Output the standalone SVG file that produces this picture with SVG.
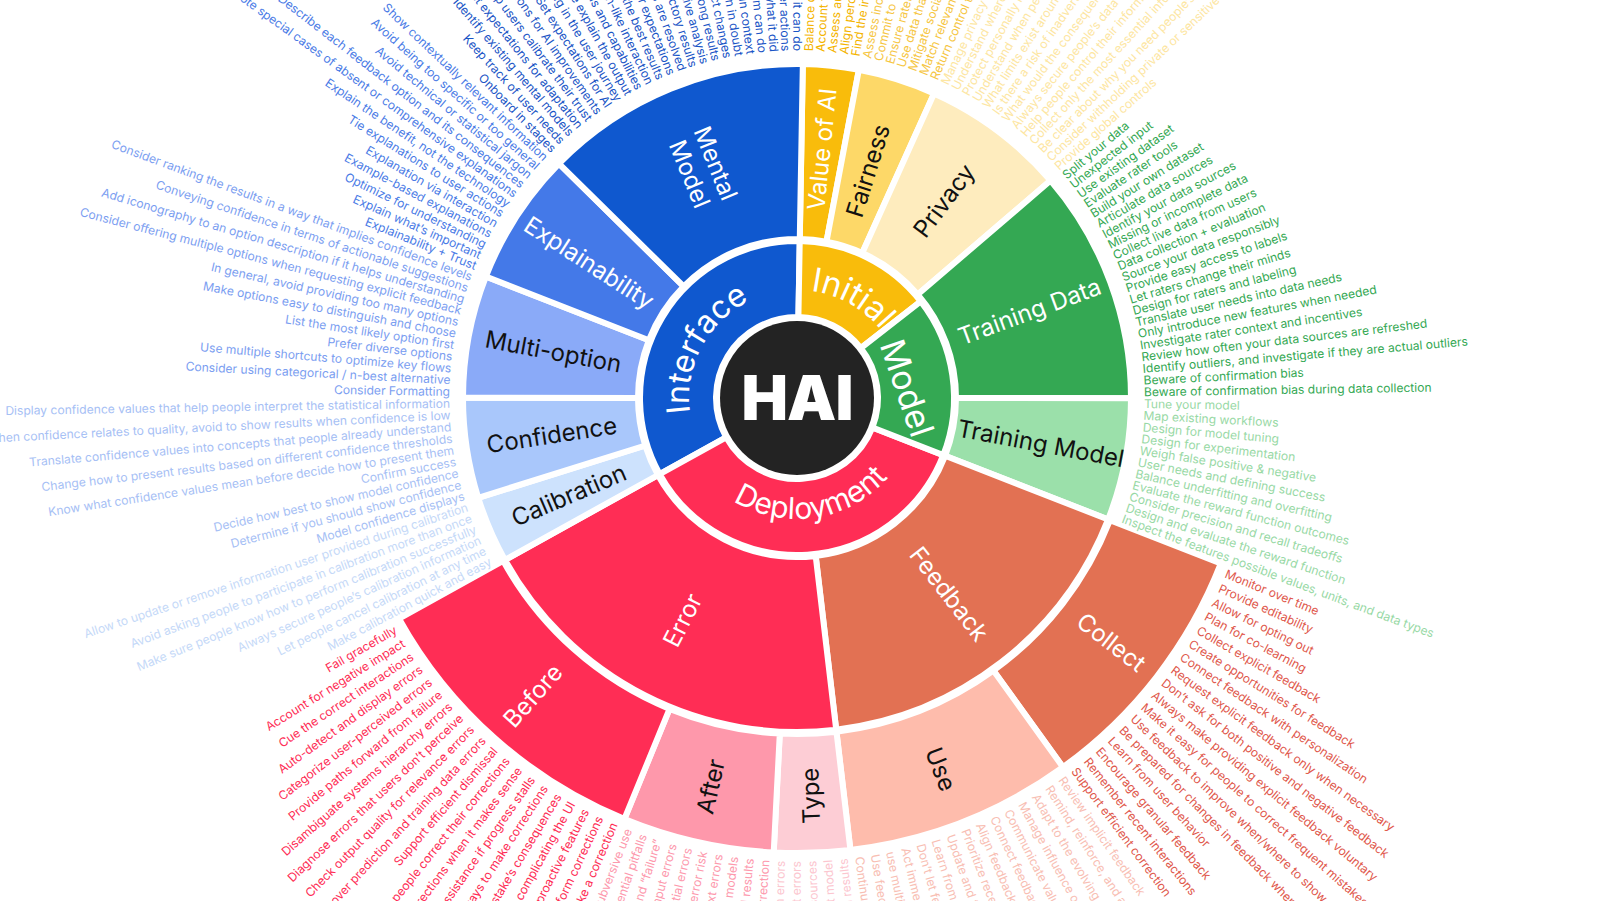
<svg xmlns="http://www.w3.org/2000/svg" width="1601" height="901" viewBox="0 0 1601 901">
<style>
.lt{font-family:Inter,"Noto Sans","DejaVu Sans",sans-serif;font-size:12.1px}
.lt .f{text-anchor:end}
.lb{font-family:Inter,"Noto Sans","DejaVu Sans",sans-serif;font-size:24px;text-anchor:middle}
.il{font-family:Inter,"Noto Sans","DejaVu Sans",sans-serif;fill:#fff;text-anchor:middle}
.seg{stroke:#fff;stroke-width:6}
.w{fill:#fff}.k{fill:#111}
</style>
<defs>
<path id="arcInterface" d="M -66.49 85.11 A 108 108 0 0 1 33.37 -102.71"/>
<path id="arcInitial" d="M -55.62 -92.57 A 108 108 0 0 1 107.98 -1.88"/>
<path id="arcDeployment" d="M -114.75 38.39 A 121 121 0 0 0 120.96 3.17"/>
</defs>
<rect width="1601" height="901" fill="#fff"/>
<g transform="translate(797 398)">

<!-- inner ring -->
<g id="interface"><path class="seg" fill="#0f58cf" d="M -137.315 76.115 A 157 157 0 0 1 2.740 -156.976 L 1.414 -80.988 A 81 81 0 0 0 -70.844 39.270 Z"/>
<text class="il" font-size="32"><textPath href="#arcInterface" startOffset="50%">Interface</textPath></text></g>
<g id="initial"><path class="seg" fill="#f9bc0b" d="M 2.740 -156.976 A 157 157 0 0 1 123.718 -96.659 L 63.829 -49.868 A 81 81 0 0 0 1.414 -80.988 Z"/>
<text class="il" font-size="33"><textPath href="#arcInitial" startOffset="50%">Initial</textPath></text></g>
<g id="deployment"><path class="seg" fill="#ff2d55" d="M 146.253 57.090 A 157 157 0 0 1 -137.315 76.115 L -70.844 39.270 A 81 81 0 0 0 75.456 29.454 Z"/>
<text class="il" font-size="30"><textPath href="#arcDeployment" startOffset="50%">Deployment</textPath></text></g>
<g id="model"><path class="seg" fill="#34a853" d="M 123.718 -96.659 A 157 157 0 0 1 146.253 57.090 L 75.456 29.454 A 81 81 0 0 0 63.829 -49.868 Z"/>
<text class="il" font-size="34" transform="translate(110 -10) rotate(71)" y="12">Model</text></g>

<g id="hai"><circle r="77" fill="#232323"/>
<text y="22" font-family="Inter,'Noto Sans',sans-serif" font-size="62" font-weight="900" fill="#fff" text-anchor="middle" letter-spacing="-1">HAI</text></g>

<!-- second ring -->
<g id="value-of-ai"><path class="seg" fill="#f9bc0b" d="M 5.829 -333.949 A 334 334 0 0 1 61.880 -328.218 L 29.458 -156.248 A 159 159 0 0 0 2.775 -158.976 Z"/>
<text class="lb w" transform="rotate(275.84) translate(250)" y="8">Value of AI</text></g>
<g id="fairness"><path class="seg" fill="#fdd868" d="M 61.880 -328.218 A 334 334 0 0 1 137.054 -304.591 L 65.244 -144.999 A 159 159 0 0 0 29.458 -156.248 Z"/>
<text class="lb k" transform="rotate(287.45) translate(238)" y="8">Fairness</text></g>
<g id="privacy"><path class="seg" fill="#feecbe" d="M 137.054 -304.591 A 334 334 0 0 1 253.546 -217.417 L 120.700 -103.501 A 159 159 0 0 0 65.244 -144.999 Z"/>
<text class="lb k" transform="rotate(306.81) translate(246)" y="8">Privacy</text></g>
<g id="training-data"><path class="seg" fill="#34a853" d="M 253.546 -217.417 A 334 334 0 0 1 334 0.187 L 159 0.089 A 159 159 0 0 0 120.700 -103.501 Z"/>
<text class="lb w" transform="rotate(339.71) translate(248)" y="8">Training Data</text></g>
<g id="training-model"><path class="seg" fill="#9be0aa" d="M 334 0.187 A 334 334 0 0 1 311.138 121.452 L 148.116 57.817 A 159 159 0 0 0 159 0.089 Z"/>
<text class="lb k" transform="rotate(10.68) translate(248)" y="8">Training Model</text></g>
<g id="feedback"><path class="seg" fill="#e27153" d="M 311.138 121.452 A 334 334 0 0 1 39.212 331.692 L 18.667 157.901 A 159 159 0 0 0 148.116 57.817 Z"/>
<text class="lb w" transform="rotate(52.29) translate(248)" y="8">Feedback</text></g>
<g id="error"><path class="seg" fill="#ff2d55" d="M 39.212 331.692 A 334 334 0 0 1 -292.123 161.927 L -139.065 77.085 A 159 159 0 0 0 18.667 157.901 Z"/>
<text class="lb w" transform="rotate(117.13) translate(250) rotate(180)" y="8">Error</text></g>
<g id="calibration"><path class="seg" fill="#cde2fd" d="M -292.123 161.927 A 334 334 0 0 1 -318.736 99.806 L -151.734 47.512 A 159 159 0 0 0 -139.065 77.085 Z"/>
<text class="lb k" transform="rotate(156.81) translate(248) rotate(180)" y="8">Calibration</text></g>
<g id="confidence"><path class="seg" fill="#a9c7fb" d="M -318.736 99.806 A 334 334 0 0 1 -334 -0.187 L -159 -0.089 A 159 159 0 0 0 -151.734 47.512 Z"/>
<text class="lb k" transform="rotate(171.32) translate(248) rotate(180)" y="8">Confidence</text></g>
<g id="multi-option"><path class="seg" fill="#8aaaf8" d="M -334 -0.187 A 334 334 0 0 1 -311.138 -121.452 L -148.116 -57.817 A 159 159 0 0 0 -159 -0.089 Z"/>
<text class="lb k" transform="rotate(190.68) translate(248) rotate(180)" y="8">Multi-option</text></g>
<g id="explainability"><path class="seg" fill="#4479e8" d="M -311.138 -121.452 A 334 334 0 0 1 -238.028 -234.304 L -113.313 -111.540 A 159 159 0 0 0 -148.116 -57.817 Z"/>
<text class="lb w" transform="rotate(212.94) translate(248) rotate(180)" y="8">Explainability</text></g>
<g id="mental-model"><path class="seg" fill="#0f58cf" d="M -238.028 -234.304 A 334 334 0 0 1 5.829 -333.949 L 2.775 -158.976 A 159 159 0 0 0 -113.313 -111.540 Z"/>
<text class="lb w" transform="rotate(247.77) translate(248) rotate(180)"><tspan x="0" y="-5">Mental</tspan><tspan x="0" y="23">Model</tspan></text></g>

<!-- third ring -->
<g id="collect"><path class="seg" fill="#e27153" d="M 423.855 165.452 A 455 455 0 0 1 265.988 369.155 L 196.422 272.607 A 336 336 0 0 0 313.001 122.180 Z"/>
<text class="lb w" transform="rotate(37.77) translate(398)" y="9" font-size="26">Collect</text></g>
<g id="use"><path class="seg" fill="#febcac" d="M 265.988 369.155 A 455 455 0 0 1 53.417 451.856 L 39.446 333.678 A 336 336 0 0 0 196.422 272.607 Z"/>
<text class="lb k" transform="rotate(68.74) translate(398)" y="9" font-size="26">Use</text></g>
<g id="type"><path class="seg" fill="#fdcdd5" d="M 53.417 451.856 A 455 455 0 0 1 -23.301 454.403 L -17.207 335.559 A 336 336 0 0 0 39.446 333.678 Z"/>
<text class="lb k" transform="rotate(88.1) translate(398) rotate(180)" y="9" font-size="26">Type</text></g>
<g id="after"><path class="seg" fill="#fe98ab" d="M -23.301 454.403 A 455 455 0 0 1 -172.582 420.998 L -127.445 310.891 A 336 336 0 0 0 -17.207 335.559 Z"/>
<text class="lb k" transform="rotate(102.61) translate(398) rotate(180)" y="9" font-size="26">After</text></g>
<g id="before"><path class="seg" fill="#ff2d55" d="M -172.582 420.998 A 455 455 0 0 1 -397.952 220.589 L -293.872 162.896 A 336 336 0 0 0 -127.445 310.891 Z"/>
<text class="lb w" transform="rotate(131.65) translate(398) rotate(180)" y="9" font-size="26">Before</text></g>

<!-- item lists -->
<g id="list-value-of-ai" class="lt" fill="#f4b400">
<text transform="rotate(271.97) translate(347)" y="4">Balance control and automation</text>
<text transform="rotate(273.90) translate(347)" y="4">Account for user expectations</text>
<text transform="rotate(275.84) translate(347)" y="4">Assess automation vs. augmentation</text>
<text transform="rotate(277.77) translate(347)" y="4">Align perceived value</text>
<text transform="rotate(279.71) translate(347)" y="4">Find the intersection of user needs &amp; AI strengths</text>
</g>
<g id="list-fairness" class="lt" fill="#f6c643">
<text transform="rotate(281.65) translate(347)" y="4">Assess inclusivity</text>
<text transform="rotate(283.58) translate(347)" y="4">Commit to fairness</text>
<text transform="rotate(285.52) translate(347)" y="4">Ensure rater pool diversity</text>
<text transform="rotate(287.45) translate(347)" y="4">Use data that applies to different groups</text>
<text transform="rotate(289.39) translate(347)" y="4">Mitigate social biases</text>
<text transform="rotate(291.32) translate(347)" y="4">Match relevance to user needs</text>
<text transform="rotate(293.26) translate(347)" y="4">Return control to the user</text>
</g>
<g id="list-privacy" class="lt" fill="#fde6a2">
<text transform="rotate(295.19) translate(347)" y="4">Manage privacy and security</text>
<text transform="rotate(297.13) translate(347)" y="4">Understand where the data comes from</text>
<text transform="rotate(299.06) translate(347)" y="4">Protect personally identifiable information</text>
<text transform="rotate(301.00) translate(347)" y="4">Understand when people want to share</text>
<text transform="rotate(302.94) translate(347)" y="4">What limits exist around data use?</text>
<text transform="rotate(304.87) translate(347)" y="4">Is there a risk of inadvertently revealing data?</text>
<text transform="rotate(306.81) translate(347)" y="4">What would the consequences be?</text>
<text transform="rotate(308.74) translate(347)" y="4">Always secure people’s data</text>
<text transform="rotate(310.68) translate(347)" y="4">Help people control their information</text>
<text transform="rotate(312.61) translate(347)" y="4">Collect only the most essential information</text>
<text transform="rotate(314.55) translate(347)" y="4">Be clear about why you need people’s data</text>
<text transform="rotate(316.48) translate(347)" y="4">Consider withholding private or sensitive data</text>
<text transform="rotate(318.42) translate(347)" y="4">Provide global controls</text>
</g>
<g id="list-training-data" class="lt" fill="#34a853">
<text transform="rotate(320.35) translate(347)" y="4">Split your data</text>
<text transform="rotate(322.29) translate(347)" y="4">Unexpected input</text>
<text transform="rotate(324.23) translate(347)" y="4">Use existing dataset</text>
<text transform="rotate(326.16) translate(347)" y="4">Evaluate rater tools</text>
<text transform="rotate(328.10) translate(347)" y="4">Build your own dataset</text>
<text transform="rotate(330.03) translate(347)" y="4">Articulate data sources</text>
<text transform="rotate(331.97) translate(347)" y="4">Identify your data sources</text>
<text transform="rotate(333.90) translate(347)" y="4">Missing or incomplete data</text>
<text transform="rotate(335.84) translate(347)" y="4">Collect live data from users</text>
<text transform="rotate(337.77) translate(347)" y="4">Data collection + evaluation</text>
<text transform="rotate(339.71) translate(347)" y="4">Source your data responsibly</text>
<text transform="rotate(341.65) translate(347)" y="4">Provide easy access to labels</text>
<text transform="rotate(343.58) translate(347)" y="4">Let raters change their minds</text>
<text transform="rotate(345.52) translate(347)" y="4">Design for raters and labeling</text>
<text transform="rotate(347.45) translate(347)" y="4">Translate user needs into data needs</text>
<text transform="rotate(349.39) translate(347)" y="4">Only introduce new features when needed</text>
<text transform="rotate(351.32) translate(347)" y="4">Investigate rater context and incentives</text>
<text transform="rotate(353.26) translate(347)" y="4">Review how often your data sources are refreshed</text>
<text transform="rotate(355.19) translate(347)" y="4">Identify outliers, and investigate if they are actual outliers</text>
<text transform="rotate(357.13) translate(347)" y="4">Beware of confirmation bias</text>
<text transform="rotate(359.06) translate(347)" y="4">Beware of confirmation bias during data collection</text>
</g>
<g id="list-training-model" class="lt" fill="#98d9a5">
<text transform="rotate(1.00) translate(347)" y="4">Tune your model</text>
<text transform="rotate(2.94) translate(347)" y="4">Map existing workflows</text>
<text transform="rotate(4.87) translate(347)" y="4">Design for model tuning</text>
<text transform="rotate(6.81) translate(347)" y="4">Design for experimentation</text>
<text transform="rotate(8.74) translate(347)" y="4">Weigh false positive &amp; negative</text>
<text transform="rotate(10.68) translate(347)" y="4">User needs and defining success</text>
<text transform="rotate(12.61) translate(347)" y="4">Balance underfitting and overfitting</text>
<text transform="rotate(14.55) translate(347)" y="4">Evaluate the reward function outcomes</text>
<text transform="rotate(16.48) translate(347)" y="4">Consider precision and recall tradeoffs</text>
<text transform="rotate(18.42) translate(347)" y="4">Design and evaluate the reward function</text>
<text transform="rotate(20.35) translate(347)" y="4">Inspect the features possible values, units, and data types</text>
</g>
<g id="list-collect" class="lt" fill="#e0574b">
<text transform="rotate(22.29) translate(463)" y="4">Monitor over time</text>
<text transform="rotate(24.23) translate(463)" y="4">Provide editability</text>
<text transform="rotate(26.16) translate(463)" y="4">Allow for opting out</text>
<text transform="rotate(28.10) translate(463)" y="4">Plan for co-learning</text>
<text transform="rotate(30.03) translate(463)" y="4">Collect explicit feedback</text>
<text transform="rotate(31.97) translate(463)" y="4">Create opportunities for feedback</text>
<text transform="rotate(33.90) translate(463)" y="4">Connect feedback with personalization</text>
<text transform="rotate(35.84) translate(463)" y="4">Request explicit feedback only when necessary</text>
<text transform="rotate(37.77) translate(463)" y="4">Don’t ask for both positive and negative feedback</text>
<text transform="rotate(39.71) translate(463)" y="4">Always make providing explicit feedback voluntary</text>
<text transform="rotate(41.65) translate(463)" y="4">Make it easy for people to correct frequent mistakes</text>
<text transform="rotate(43.58) translate(463)" y="4">Use feedback to improve when/where to show results</text>
<text transform="rotate(45.52) translate(463)" y="4">Be prepared for changes in feedback when the product evolves</text>
<text transform="rotate(47.45) translate(463)" y="4">Learn from user behavior</text>
<text transform="rotate(49.39) translate(463)" y="4">Encourage granular feedback</text>
<text transform="rotate(51.32) translate(463)" y="4">Remember recent interactions</text>
<text transform="rotate(53.26) translate(463)" y="4">Support efficient correction</text>
</g>
<g id="list-use" class="lt" fill="#f8beb3">
<text transform="rotate(55.19) translate(463)" y="4">Review implicit feedback</text>
<text transform="rotate(57.13) translate(463)" y="4">Remind, reinforce, and adjust</text>
<text transform="rotate(59.06) translate(463)" y="4">Adapt to the evolving needs of people</text>
<text transform="rotate(61.00) translate(463)" y="4">Manage influence on user decisions</text>
<text transform="rotate(62.94) translate(463)" y="4">Communicate value and time to impact</text>
<text transform="rotate(64.87) translate(463)" y="4">Connect feedback to UX changes</text>
<text transform="rotate(66.81) translate(463)" y="4">Align feedback with model improvement</text>
<text transform="rotate(68.74) translate(463)" y="4">Prioritize recent feedback</text>
<text transform="rotate(70.68) translate(463)" y="4">Update and tune the model</text>
<text transform="rotate(72.61) translate(463)" y="4">Learn from feedback over time</text>
<text transform="rotate(74.55) translate(463)" y="4">Don’t let feedback go to waste</text>
<text transform="rotate(76.48) translate(463)" y="4">Act immediately on feedback</text>
<text transform="rotate(78.42) translate(463)" y="4">use multiple feedback signals</text>
<text transform="rotate(80.35) translate(463)" y="4">Use feedback to personalize</text>
<text transform="rotate(82.29) translate(463)" y="4">Continuously learn from people</text>
</g>
<g id="list-type" class="lt" fill="#fcc6cf">
<text class="f" transform="rotate(84.23) translate(463) rotate(180)" y="4">Unexpected results</text>
<text class="f" transform="rotate(86.16) translate(463) rotate(180)" y="4">Incorrect model</text>
<text class="f" transform="rotate(88.10) translate(463) rotate(180)" y="4">Multiple data sources</text>
<text class="f" transform="rotate(90.03) translate(463) rotate(180)" y="4">Context errors</text>
<text class="f" transform="rotate(91.97) translate(463) rotate(180)" y="4">System errors</text>
</g>
<g id="list-after" class="lt" fill="#fd99ad">
<text class="f" transform="rotate(93.90) translate(463) rotate(180)" y="4">Allow for correction</text>
<text class="f" transform="rotate(95.84) translate(463) rotate(180)" y="4">Review unexpected results</text>
<text class="f" transform="rotate(97.77) translate(463) rotate(180)" y="4">Identify errors in models</text>
<text class="f" transform="rotate(99.71) translate(463) rotate(180)" y="4">Account for context errors</text>
<text class="f" transform="rotate(101.65) translate(463) rotate(180)" y="4">Assess error risk</text>
<text class="f" transform="rotate(103.58) translate(463) rotate(180)" y="4">Anticipate potential errors</text>
<text class="f" transform="rotate(105.52) translate(463) rotate(180)" y="4">Handle input errors</text>
<text class="f" transform="rotate(107.45) translate(463) rotate(180)" y="4">Define “errors” and “failure”</text>
<text class="f" transform="rotate(109.39) translate(463) rotate(180)" y="4">Identify potential pitfalls</text>
<text class="f" transform="rotate(111.32) translate(463) rotate(180)" y="4">Plan for subversive use</text>
</g>
<g id="list-before" class="lt" fill="#fe2d55">
<text class="f" transform="rotate(113.26) translate(463) rotate(180)" y="4">Make it easy to make a correction</text>
<text class="f" transform="rotate(115.19) translate(463) rotate(180)" y="4">Let people perform corrections</text>
<text class="f" transform="rotate(117.13) translate(463) rotate(180)" y="4">Be careful with proactive features</text>
<text class="f" transform="rotate(119.06) translate(463) rotate(180)" y="4">Guide without complicating the UI</text>
<text class="f" transform="rotate(121.00) translate(463) rotate(180)" y="4">Explain the mistake’s consequences</text>
<text class="f" transform="rotate(122.94) translate(463) rotate(180)" y="4">Provide ways to make corrections</text>
<text class="f" transform="rotate(124.87) translate(463) rotate(180)" y="4">Offer assistance if progress stalls</text>
<text class="f" transform="rotate(126.81) translate(463) rotate(180)" y="4">Allow corrections when it makes sense</text>
<text class="f" transform="rotate(128.74) translate(463) rotate(180)" y="4">Let people correct their corrections</text>
<text class="f" transform="rotate(130.68) translate(463) rotate(180)" y="4">Support efficient dismissal</text>
<text class="f" transform="rotate(132.61) translate(463) rotate(180)" y="4">Discover prediction and training data errors</text>
<text class="f" transform="rotate(134.55) translate(463) rotate(180)" y="4">Check output quality for relevance errors</text>
<text class="f" transform="rotate(136.48) translate(463) rotate(180)" y="4">Diagnose errors that users don’t perceive</text>
<text class="f" transform="rotate(138.42) translate(463) rotate(180)" y="4">Disambiguate systems hierarchy errors</text>
<text class="f" transform="rotate(140.35) translate(463) rotate(180)" y="4">Provide paths forward from failure</text>
<text class="f" transform="rotate(142.29) translate(463) rotate(180)" y="4">Categorize user-perceived errors</text>
<text class="f" transform="rotate(144.23) translate(463) rotate(180)" y="4">Auto-detect and display errors</text>
<text class="f" transform="rotate(146.16) translate(463) rotate(180)" y="4">Cue the correct interactions</text>
<text class="f" transform="rotate(148.10) translate(463) rotate(180)" y="4">Account for negative impact</text>
<text class="f" transform="rotate(150.03) translate(463) rotate(180)" y="4">Fail gracefully</text>
</g>
<g id="list-calibration" class="lt" fill="#c5d9f8">
<text class="f" transform="rotate(151.97) translate(347) rotate(180)" y="4">Make calibration quick and easy</text>
<text class="f" transform="rotate(153.90) translate(347) rotate(180)" y="4">Let people cancel calibration at any time</text>
<text class="f" transform="rotate(155.84) translate(347) rotate(180)" y="4">Always secure people’s calibration information</text>
<text class="f" transform="rotate(157.77) translate(347) rotate(180)" y="4">Make sure people know how to perform calibration successfully</text>
<text class="f" transform="rotate(159.71) translate(347) rotate(180)" y="4">Avoid asking people to participate in calibration more than once</text>
<text class="f" transform="rotate(161.65) translate(347) rotate(180)" y="4">Allow to update or remove information user provided during calibration</text>
</g>
<g id="list-confidence" class="lt" fill="#a6c0f5">
<text class="f" transform="rotate(163.58) translate(347) rotate(180)" y="4">Model confidence displays</text>
<text class="f" transform="rotate(165.52) translate(347) rotate(180)" y="4">Determine if you should show confidence</text>
<text class="f" transform="rotate(167.45) translate(347) rotate(180)" y="4">Decide how best to show model confidence</text>
<text class="f" transform="rotate(169.39) translate(347) rotate(180)" y="4">Confirm success</text>
<text class="f" transform="rotate(171.32) translate(347) rotate(180)" y="4">Know what confidence values mean before decide how to present them</text>
<text class="f" transform="rotate(173.26) translate(347) rotate(180)" y="4">Change how to present results based on different confidence thresholds</text>
<text class="f" transform="rotate(175.19) translate(347) rotate(180)" y="4">Translate confidence values into concepts that people already understand</text>
<text class="f" transform="rotate(177.13) translate(347) rotate(180)" y="4">When confidence relates to quality, avoid to show results when confidence is low</text>
<text class="f" transform="rotate(179.06) translate(347) rotate(180)" y="4">Display confidence values that help people interpret the statistical information</text>
</g>
<g id="list-multi-option" class="lt" fill="#7b9ef1">
<text class="f" transform="rotate(181.00) translate(347) rotate(180)" y="4">Consider Formatting</text>
<text class="f" transform="rotate(182.94) translate(347) rotate(180)" y="4">Consider using categorical / n-best alternative</text>
<text class="f" transform="rotate(184.87) translate(347) rotate(180)" y="4">Use multiple shortcuts to optimize key flows</text>
<text class="f" transform="rotate(186.81) translate(347) rotate(180)" y="4">Prefer diverse options</text>
<text class="f" transform="rotate(188.74) translate(347) rotate(180)" y="4">List the most likely option first</text>
<text class="f" transform="rotate(190.68) translate(347) rotate(180)" y="4">Make options easy to distinguish and choose</text>
<text class="f" transform="rotate(192.61) translate(347) rotate(180)" y="4">In general, avoid providing too many options</text>
<text class="f" transform="rotate(194.55) translate(347) rotate(180)" y="4">Consider offering multiple options when requesting explicit feedback</text>
<text class="f" transform="rotate(196.48) translate(347) rotate(180)" y="4">Add iconography to an option description if it helps understanding</text>
<text class="f" transform="rotate(198.42) translate(347) rotate(180)" y="4">Conveying confidence in terms of actionable suggestions</text>
<text class="f" transform="rotate(200.35) translate(347) rotate(180)" y="4">Consider ranking the results in a way that implies confidence levels</text>
</g>
<g id="list-explainability" class="lt" fill="#4a7be6">
<text class="f" transform="rotate(202.29) translate(347) rotate(180)" y="4">Explainability + Trust</text>
<text class="f" transform="rotate(204.23) translate(347) rotate(180)" y="4">Explain what’s important</text>
<text class="f" transform="rotate(206.16) translate(347) rotate(180)" y="4">Optimize for understanding</text>
<text class="f" transform="rotate(208.10) translate(347) rotate(180)" y="4">Example-based explanations</text>
<text class="f" transform="rotate(210.03) translate(347) rotate(180)" y="4">Explanation via interaction</text>
<text class="f" transform="rotate(211.97) translate(347) rotate(180)" y="4">Tie explanations to user actions</text>
<text class="f" transform="rotate(213.90) translate(347) rotate(180)" y="4">Explain the benefit, not the technology</text>
<text class="f" transform="rotate(215.84) translate(347) rotate(180)" y="4">Note special cases of absent or comprehensive explanations</text>
<text class="f" transform="rotate(217.77) translate(347) rotate(180)" y="4">Describe each feedback option and its consequences</text>
<text class="f" transform="rotate(219.71) translate(347) rotate(180)" y="4">Avoid technical or statistical jargon</text>
<text class="f" transform="rotate(221.65) translate(347) rotate(180)" y="4">Avoid being too specific or too general</text>
<text class="f" transform="rotate(223.58) translate(347) rotate(180)" y="4">Show contextually relevant information</text>
</g>
<g id="list-mental-model" class="lt" fill="#1a55c6">
<text class="f" transform="rotate(225.52) translate(347) rotate(180)" y="4">Onboard in stages</text>
<text class="f" transform="rotate(227.45) translate(347) rotate(180)" y="4">Keep track of user needs</text>
<text class="f" transform="rotate(229.39) translate(347) rotate(180)" y="4">Identify existing mental models</text>
<text class="f" transform="rotate(231.32) translate(347) rotate(180)" y="4">Set expectations for adaptation</text>
<text class="f" transform="rotate(233.26) translate(347) rotate(180)" y="4">Help users calibrate their trust</text>
<text class="f" transform="rotate(235.19) translate(347) rotate(180)" y="4">Plan explanations for AI improvements</text>
<text class="f" transform="rotate(237.13) translate(347) rotate(180)" y="4">Set expectations for AI</text>
<text class="f" transform="rotate(239.06) translate(347) rotate(180)" y="4">Onboarding in the user journey</text>
<text class="f" transform="rotate(241.00) translate(347) rotate(180)" y="4">Help people explain the output</text>
<text class="f" transform="rotate(242.94) translate(347) rotate(180)" y="4">Be upfront about limitations and capabilities</text>
<text class="f" transform="rotate(244.87) translate(347) rotate(180)" y="4">Avoid human-like interaction</text>
<text class="f" transform="rotate(246.81) translate(347) rotate(180)" y="4">Show how to get the best results</text>
<text class="f" transform="rotate(248.74) translate(347) rotate(180)" y="4">Set clear expectations</text>
<text class="f" transform="rotate(250.68) translate(347) rotate(180)" y="4">Make sure issues are resolved</text>
<text class="f" transform="rotate(252.61) translate(347) rotate(180)" y="4">Account for unsatisfactory results</text>
<text class="f" transform="rotate(254.55) translate(347) rotate(180)" y="4">Offer comparative analysis</text>
<text class="f" transform="rotate(256.48) translate(347) rotate(180)" y="4">Explain wrong results</text>
<text class="f" transform="rotate(258.42) translate(347) rotate(180)" y="4">Communicate product changes</text>
<text class="f" transform="rotate(260.35) translate(347) rotate(180)" y="4">Ask for feedback when in doubt</text>
<text class="f" transform="rotate(262.29) translate(347) rotate(180)" y="4">Show explanations in context</text>
<text class="f" transform="rotate(264.23) translate(347) rotate(180)" y="4">Describe what the system can do</text>
<text class="f" transform="rotate(266.16) translate(347) rotate(180)" y="4">Explain what it did</text>
<text class="f" transform="rotate(268.10) translate(347) rotate(180)" y="4">Connect to user actions</text>
<text class="f" transform="rotate(270.03) translate(347) rotate(180)" y="4">Explain what it can do</text>
</g>
</g>
</svg>
